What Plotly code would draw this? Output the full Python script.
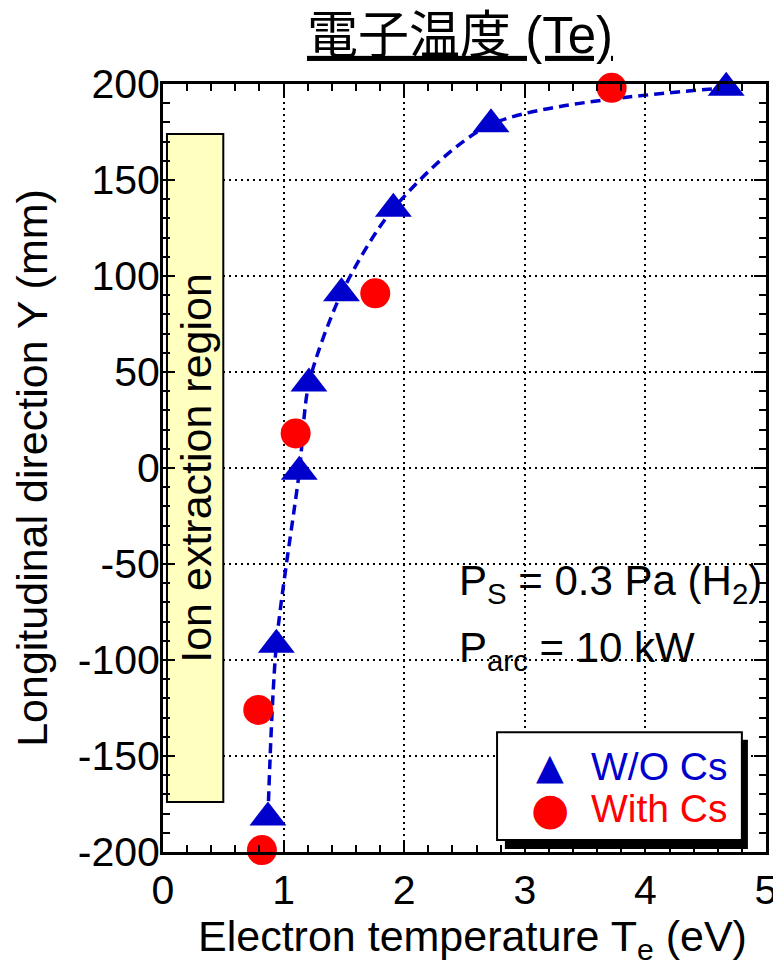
import plotly.graph_objects as go

# W/O Cs (triangles) - electron temperature (eV) vs Y (mm)
wo_te = [0.87, 0.94, 1.13, 1.21, 1.48, 1.91, 2.72, 4.67]
wo_y = [-182, -92, -2, 44, 91, 135, 179, 198]

# With Cs (circles)
w_te = [0.82, 0.79, 1.10, 1.76, 3.72]
w_y = [-199, -126, 18, 91, 198]

x_ticks = [0, 1, 2, 3, 4, 5]
y_ticks = [-200, -150, -100, -50, 0, 50, 100, 150, 200]

region = {"x0": 0.033, "x1": 0.5, "y0": -174, "y1": 174, "label": "Ion extraction region"}

legend_names = ["W/O Cs", "With Cs"]

BLUE = "#0000CC"
RED = "#FF0000"
FONT = "Liberation Sans, Arial, Noto Sans CJK JP"

# the page body has an 8px margin; figure is sized/offset to compensate
W, H = 773, 960

fig = go.Figure()

fig.add_trace(go.Scatter(
    x=wo_te, y=wo_y, mode="lines", line=dict(color=BLUE, width=3.5, dash="10px,6px", shape="spline", smoothing=0.8),
    showlegend=False, hoverinfo="skip"))

fig.add_trace(go.Scatter(
    x=wo_te, y=wo_y, mode="markers", name=legend_names[0], showlegend=False, cliponaxis=False,
    marker=dict(symbol="triangle-up", size=32, color=BLUE, line=dict(width=0))))

fig.add_trace(go.Scatter(
    x=w_te, y=w_y, mode="markers", name=legend_names[1], showlegend=False, cliponaxis=False,
    marker=dict(symbol="circle", size=30, color=RED, line=dict(width=0))))

# Ion extraction region box
fig.add_shape(type="rect", xref="x", yref="y", x0=region["x0"], x1=region["x1"], y0=region["y0"], y1=region["y1"],
              fillcolor="#FFFFC0", line=dict(color="black", width=2), layer="between")
fig.add_annotation(x=(region["x0"] + region["x1"]) / 2 + 0.005, y=0, xref="x", yref="y", text=region["label"],
                   textangle=-90, showarrow=False, font=dict(size=43, color="black", family=FONT))

# Legend box with shadow (drawn manually for large symbols)
fig.add_shape(type="rect", xref="paper", yref="paper", x0=0.567, x1=0.970, y0=0.004, y1=0.146,
              fillcolor="black", line=dict(width=0), layer="above")
fig.add_shape(type="rect", xref="paper", yref="paper", x0=0.554, x1=0.960, y0=0.0156, y1=0.156,
              fillcolor="white", line=dict(color="black", width=2), layer="above")
leg_rows = [(0.111, "▲", BLUE, legend_names[0]), (0.057, "●", RED, legend_names[1])]
for yy, sym, col, name in leg_rows:
    fig.add_annotation(x=0.642, y=yy, xref="paper", yref="paper", text=sym, showarrow=False,
                       xanchor="center", yanchor="middle", font=dict(size=36 if sym == "▲" else 44, color=col, family="DejaVu Sans"))
    fig.add_annotation(x=0.707, y=yy, xref="paper", yref="paper", text=name, showarrow=False,
                       xanchor="left", yanchor="middle", font=dict(size=39, color=col, family=FONT))

# Condition annotations
fig.add_annotation(x=2.44, y=-60, xref="x", yref="y", xanchor="left", yanchor="middle", showarrow=False,
                   text="P<sub>S</sub> = 0.3 Pa (H<sub>2</sub>)", font=dict(size=42, color="black", family=FONT))
fig.add_annotation(x=2.44, y=-95, xref="x", yref="y", xanchor="left", yanchor="middle", showarrow=False,
                   text="P<sub>arc</sub> = 10 kW", font=dict(size=42, color="black", family=FONT))

# X axis title as an annotation (so it can sit lower than the margin clamp allows)
fig.add_annotation(x=0.514, y=-0.151, xref="paper", yref="paper", xanchor="center", yanchor="bottom", showarrow=False,
                   text="Electron temperature T<sub>e</sub> (eV)", font=dict(size=43, color="black", family=FONT))

axis_common = dict(
    showline=True, linecolor="black", linewidth=3, mirror="allticks",
    ticks="inside", ticklen=12, tickwidth=2, tickcolor="black",
    showgrid=True, gridcolor="black", gridwidth=1.5, griddash="2px,4px",
    zeroline=False, tickfont=dict(size=41, color="black", family=FONT), automargin=False,
    ticklabeloverflow="allow",
)

fig.update_xaxes(range=[0, 5], tickvals=x_ticks, ticktext=[str(v) for v in x_ticks],
                 minor=dict(dtick=0.2, ticks="inside", ticklen=7, tickwidth=2, tickcolor="black", showgrid=False),
                 ticklabelstandoff=0,
                 **axis_common)
fig.update_yaxes(range=[-200, 200], tickvals=y_ticks, ticktext=[str(v) for v in y_ticks],
                 minor=dict(dtick=10, ticks="inside", ticklen=7, tickwidth=2, tickcolor="black", showgrid=False),
                 title=dict(text="Longitudinal direction Y (mm)", font=dict(size=43, color="black", family=FONT), standoff=17),
                 ticklabelstandoff=-8,
                 **axis_common)

fig.update_layout(
    width=W, height=H,
    margin=dict(l=155, r=15, t=76, b=116, autoexpand=False),
    paper_bgcolor="white", plot_bgcolor="white",
    title=dict(text="<u>電子温度 (Te)</u>", x=452 / W, xref="container", xanchor="center", y=1 - 27 / H, yanchor="middle",
               font=dict(size=51, color="black", family=FONT)),
    showlegend=False,
)

fig.write_html("out.html")
